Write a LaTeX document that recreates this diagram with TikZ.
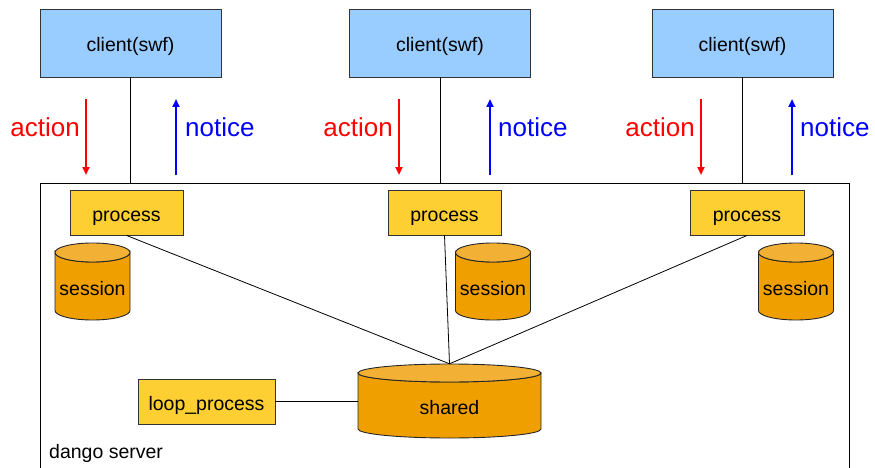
\documentclass[tikz,border=0pt]{standalone}
\usepackage{fontspec}
\setmainfont{Liberation Sans}
\usetikzlibrary{arrows.meta}

\definecolor{clientblue}{RGB}{153,204,255}
\definecolor{procyellow}{RGB}{253,207,51}
\definecolor{dborange}{RGB}{239,160,0}
\definecolor{dbtop}{RGB}{242,177,52}

\tikzset{
  txt/.style={font=\fontsize{19.5}{22}\selectfont},
  boxtxt/.style={txt, inner sep=0pt, text height=18pt, text depth=0pt},
  client/.style={boxtxt, draw=black!80, line width=0.9pt, fill=clientblue,
    minimum width=181pt, minimum height=68pt},
  proc/.style={boxtxt, draw=black!80, line width=0.9pt, fill=procyellow,
    minimum height=45pt},
  % zylinder: breite, hoehe, radius der ellipse
  db/.style n args={3}{txt, inner sep=0pt, minimum width=#1+2pt, minimum height=#2+2pt,
    text height=27.5pt, text depth=0pt,
    path picture={
      \filldraw[fill=dborange, draw=black!85, line width=0.9pt]
        ([shift={(-#1/2,#2/2-#3)}]path picture bounding box.center)
        -- ++(0pt,-#2+2*#3)
        arc[start angle=180, end angle=360, x radius=#1/2, y radius=#3]
        -- ++(0pt,#2-2*#3)
        arc[start angle=0, end angle=-180, x radius=#1/2, y radius=#3] -- cycle;
      \filldraw[fill=dbtop, draw=black!85, line width=0.9pt]
        ([shift={(0pt,#2/2-#3)}]path picture bounding box.center)
        ellipse[x radius=#1/2, y radius=#3];
    }},
  flowlbl/.style={font=\fontsize{26}{28}\selectfont, inner sep=0pt},
  action/.style={red, line width=2.4pt, -{Triangle[length=8pt,width=7pt]}},
  notice/.style={blue, line width=2.4pt, -{Triangle[length=8pt,width=7pt]}},
}

\begin{document}
\begin{tikzpicture}[x=1pt, y=-1pt]
\useasboundingbox (0,0) rectangle (875,468);

% server rahmen
\node[draw, line width=0.9pt, inner sep=0pt, minimum width=809pt, minimum height=320pt,
  anchor=north west] (srv) at (40,183) {};
\node[txt, anchor=base west, inner sep=0pt] (srvname) at (49,458) {dango server};

% clients oben
\node[client] (c1) at (130.5,43) {client(swf)};
\node[client] (c2) at (440,43) {client(swf)};
\node[client] (c3) at (742.5,43) {client(swf)};

\draw[line width=0.8pt] (c1.south) -- (c1.south |- srv.north);
\draw[line width=0.8pt] (c2.south) -- (c2.south |- srv.north);
\draw[line width=0.8pt] (c3.south) -- (c3.south |- srv.north);

% action / notice
\node[flowlbl, red, anchor=base east] (act1) at (80,136) {action};
\node[flowlbl, blue, anchor=base west] (not1) at (185,136) {notice};
\node[flowlbl, red, anchor=base east] (act2) at (393,136) {action};
\node[flowlbl, blue, anchor=base west] (not2) at (498,136) {notice};
\node[flowlbl, red, anchor=base east] (act3) at (695,136) {action};
\node[flowlbl, blue, anchor=base west] (not3) at (800,136) {notice};

\coordinate (a1s) at (86,99);  \coordinate (a1e) at (86,175);
\coordinate (n1s) at (176,175); \coordinate (n1e) at (176,99);
\coordinate (a2s) at (399,99); \coordinate (a2e) at (399,175);
\coordinate (n2s) at (490,175); \coordinate (n2e) at (490,99);
\coordinate (a3s) at (701,99); \coordinate (a3e) at (701,175);
\coordinate (n3s) at (792,175); \coordinate (n3e) at (792,99);

\draw[action] (a1s) -- (a1e);
\draw[notice] (n1s) -- (n1e);
\draw[action] (a2s) -- (a2e);
\draw[notice] (n2s) -- (n2e);
\draw[action] (a3s) -- (a3e);
\draw[notice] (n3s) -- (n3e);

% prozesse
\node[proc, minimum width=113pt] (p1) at (126.5,212.5) {process};
\node[proc, minimum width=113pt] (p2) at (444.5,212.5) {process};
\node[proc, minimum width=114pt] (p3) at (747,212.5) {process};

% sessions
\node[db={75pt}{77pt}{9.5pt}] (s1) at (92.5,281.5) {session};
\node[db={75pt}{77pt}{9.5pt}] (s2) at (493,281.5) {session};
\node[db={75pt}{77pt}{9.5pt}] (s3) at (796,281.5) {session};

% shared + loop
\node[db={183pt}{74pt}{9pt}] (sh) at (449.5,401) {shared};
\node[proc, minimum width=137pt] (loop) at (206.5,401.5) {loop\_process};

\draw[line width=0.8pt] (p1.south) -- ([yshift=-1pt]sh.north);
\draw[line width=0.8pt] (p2.south) -- ([yshift=-1pt]sh.north);
\draw[line width=0.8pt] (p3.south) -- ([yshift=-1pt]sh.north);
\draw[line width=0.8pt] (loop.east) -- ([xshift=1pt]loop.east -| sh.west);

\end{tikzpicture}
\end{document}
